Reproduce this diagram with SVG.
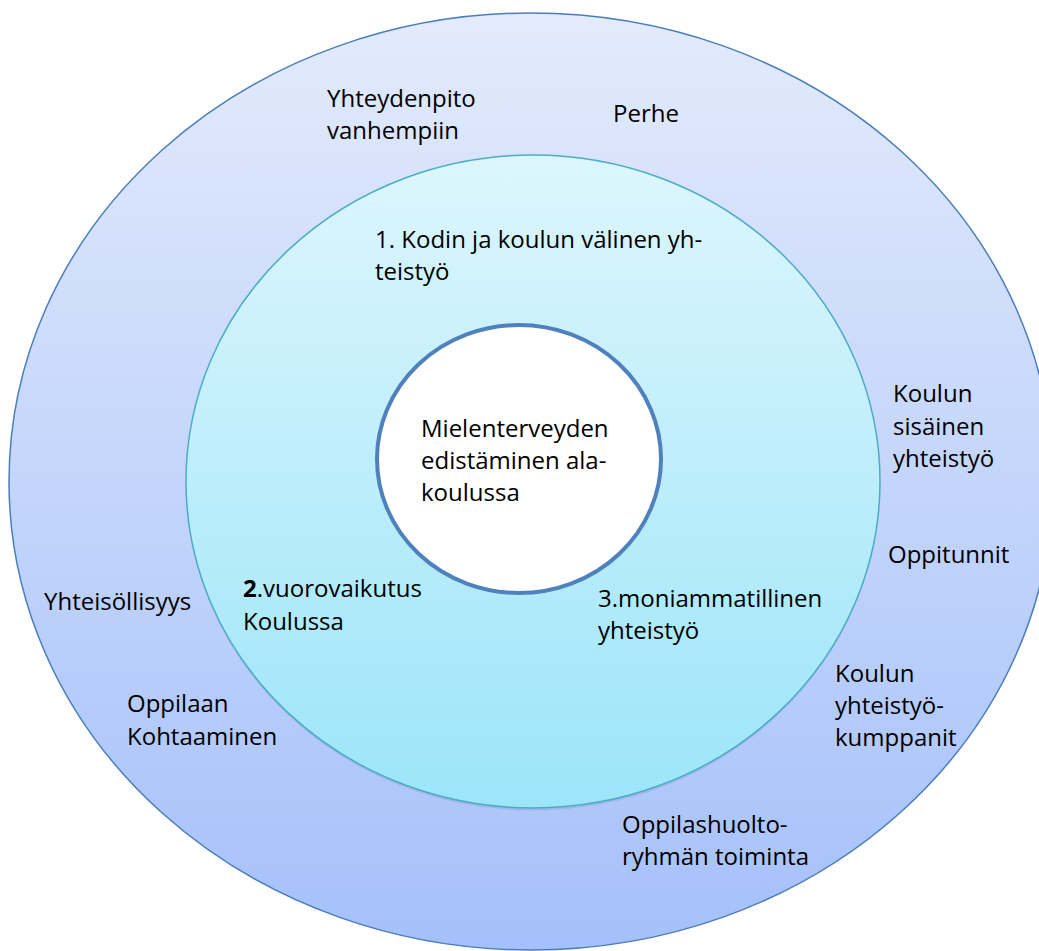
<svg xmlns="http://www.w3.org/2000/svg" width="1039" height="951" viewBox="0 0 1039 951">
<style>
text{font-family:"Open Sans","Liberation Sans",sans-serif;font-size:24px;fill:#000}
</style>
<defs>
<linearGradient id="gOuter" x1="0" y1="0" x2="0" y2="1">
<stop offset="0" stop-color="#e3ebfc"/>
<stop offset="1" stop-color="#a5c0fa"/>
</linearGradient>
<linearGradient id="gMid" x1="0" y1="0" x2="0" y2="1">
<stop offset="0" stop-color="#ddf6fd"/>
<stop offset="1" stop-color="#9ce5f9"/>
</linearGradient>
</defs>
<rect width="1039" height="951" fill="#ffffff"/>
<g id="outer">
<ellipse cx="531" cy="481.5" rx="522" ry="468.5" fill="url(#gOuter)" stroke="#4a7ebb" stroke-width="1.5"/>
</g>
<g id="middle">
<ellipse cx="533" cy="484" rx="347" ry="326.5" fill="#000" opacity="0.08"/>
<ellipse cx="533" cy="481.5" rx="347" ry="326.5" fill="url(#gMid)" stroke="#4bacc6" stroke-width="1.5"/>
</g>
<g id="inner">
<ellipse cx="519" cy="459" rx="142" ry="134" fill="#ffffff" stroke="#4f81bd" stroke-width="4"/>
<text x="421" y="437">Mielenterveyden</text>
<text x="421" y="469">edistäminen ala-</text>
<text x="421" y="501">koulussa</text>
</g>
<g id="label-yhteydenpito">
<text x="327" y="107">Yhteydenpito</text>
<text x="327" y="139">vanhempiin</text>
</g>
<g id="label-perhe"><text x="613" y="122">Perhe</text></g>
<g id="label-kodin">
<text x="375" y="248">1. Kodin ja koulun välinen yh-</text>
<text x="375" y="280">teistyö</text>
</g>
<g id="label-sisainen">
<text x="893" y="402">Koulun</text>
<text x="893" y="435">sisäinen</text>
<text x="893" y="467">yhteistyö</text>
</g>
<g id="label-oppitunnit"><text x="888" y="563">Oppitunnit</text></g>
<g id="label-yhteisollisyys"><text x="44" y="610">Yhteisöllisyys</text></g>
<g id="label-vuorovaikutus">
<text x="243" y="597"><tspan font-weight="bold">2</tspan>.vuorovaikutus</text>
<text x="243" y="630">Koulussa</text>
</g>
<g id="label-moniammatillinen">
<text x="598" y="607">3.moniammatillinen</text>
<text x="598" y="639">yhteistyö</text>
</g>
<g id="label-kumppanit">
<text x="835" y="682">Koulun</text>
<text x="835" y="714">yhteistyö-</text>
<text x="835" y="746">kumppanit</text>
</g>
<g id="label-oppilaan">
<text x="127" y="712">Oppilaan</text>
<text x="127" y="745">Kohtaaminen</text>
</g>
<g id="label-oppilashuolto">
<text x="622" y="833">Oppilashuolto-</text>
<text x="622" y="865">ryhmän toiminta</text>
</g>
<g id="connectors"/>
</svg>
